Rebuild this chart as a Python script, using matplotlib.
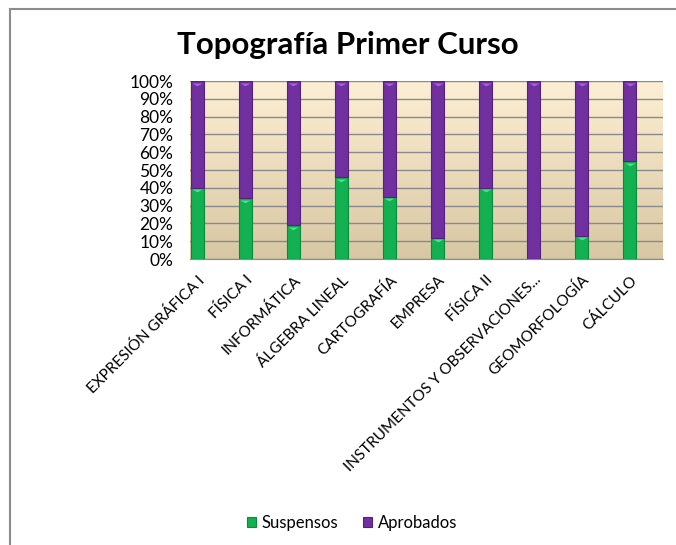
import numpy as np
import matplotlib.pyplot as plt
from matplotlib.lines import Line2D
from matplotlib.transforms import ScaledTranslation

plt.rcParams['font.family'] = ['Lato', 'DejaVu Sans']

asignaturas = ['EXPRESIÓN GRÁFICA I', 'FÍSICA I', 'INFORMÁTICA', 'ÁLGEBRA LINEAL',
               'CARTOGRAFÍA', 'EMPRESA', 'FÍSICA II', 'INSTRUMENTOS Y OBSERVACIONES...',
               'GEOMORFOLOGÍA', 'CÁLCULO']
suspensos = [40, 34, 19, 46, 35, 12, 40, 0, 13, 55]
aprobados = [60, 66, 81, 54, 65, 88, 60, 100, 87, 45]

green = '#12b050'
purple = '#7030a0'

fig = plt.figure(figsize=(6.76, 5.45), dpi=100)
ax = fig.add_axes([190 / 676, 1 - 259 / 545, 473 / 676, 178 / 545])

# frame of the chart (left and top edges only visible)
fx, fy = 9.5 / 676, 1 - 8.5 / 545
fig.lines.append(Line2D([fx, fx], [0, fy], transform=fig.transFigure, color='#8c8c8c', linewidth=1.5))
fig.lines.append(Line2D([fx, 1], [fy, fy], transform=fig.transFigure, color='#8c8c8c', linewidth=1.5))

x = np.arange(len(asignaturas))
ax.set_xlim(-0.15, 9.69)
ax.set_ylim(0, 100)

# gradient background of the plot area
grad = np.linspace(0, 1, 256).reshape(-1, 1)
top = np.array([0xfd, 0xef, 0xd4]) / 255
bottom = np.array([0xd8, 0xc7, 0xa3]) / 255
img = bottom + (top - bottom) * grad[..., None]
ax.imshow(img, extent=[-0.15, 9.69, 0, 100], aspect='auto', origin='lower', zorder=0)

ax.yaxis.grid(True, color='#8a8a8a', linewidth=1, zorder=1)
ax.set_axisbelow(True)

w = 0.27
ax.bar(x, suspensos, w, color=green, edgecolor='#0b8a3c', linewidth=0.8, zorder=3, label='Suspensos')
ax.bar(x, aprobados, w, bottom=suspensos, color=purple, edgecolor='#55237c', linewidth=0.8,
       zorder=3, label='Aprobados')

# flat bevel highlight on top of each segment
bevel = [(-1, 0), (1, 0), (0, -0.55), (-1, 0)]
shift = ax.transData + ScaledTranslation(0, -1.5 / 100, fig.dpi_scale_trans)
tops_s = np.array(suspensos, dtype=float)
tops_a = tops_s + np.array(aprobados)
m = tops_s > 0
ax.scatter(x[m], tops_s[m], marker=bevel, s=55, color='#4fe08a', linewidths=0, zorder=4, transform=shift)
ax.scatter(x, tops_a, marker=bevel, s=55, color='#a466d6', linewidths=0, zorder=4, transform=shift)

ax.set_yticks(range(0, 101, 10))
ax.set_yticklabels([f'{v}%' for v in range(0, 101, 10)], fontsize=12.5)
ax.set_xticks(x)
ax.set_xticklabels(asignaturas, rotation=45, ha='right', va='top', rotation_mode='anchor',
                   fontsize=11)
ax.tick_params(length=0)
ax.tick_params(axis='y', pad=12)
ax.tick_params(axis='x', pad=10)

for s in ['top', 'right', 'left']:
    ax.spines[s].set_visible(False)
ax.spines['bottom'].set_color('#8a8a8a')

fig.text(348 / 676, 1 - 45 / 545, 'Topografía Primer Curso', ha='center', va='center',
         fontsize=22.5, fontweight='bold')

fig.legend(loc='center', bbox_to_anchor=(352 / 676, 1 - 523 / 545), ncol=2, frameon=False,
           fontsize=12, handlelength=0.55, handleheight=0.55, handletextpad=0.35, columnspacing=1.5)

fig.savefig('out.png', dpi=100)
